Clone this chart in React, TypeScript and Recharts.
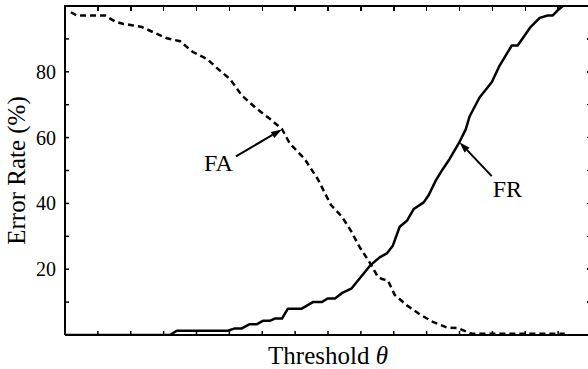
import { Line, LineChart, ReferenceLine, XAxis, YAxis } from "recharts";

// false acceptance curve (dashed)
const faThreshold = [0.18, 0.36, 1.22, 1.52, 1.76, 2.07, 2.34, 2.8, 3.1, 3.5, 3.89, 4.32, 4.65, 5.02, 5.38, 5.84, 6.23, 6.6, 6.84, 7.29, 7.69, 8.09, 8.42, 8.69, 8.97, 9.24, 9.51, 9.64, 9.82, 10.03, 10.4, 10.79, 11.19, 11.61, 11.95, 12.37, 15.2];
const faRate = [98.1, 97.1, 97.1, 95.3, 94.6, 94.1, 93.6, 91.5, 90.2, 89.3, 86.0, 83.9, 80.9, 77.8, 72.8, 68.7, 65.7, 62.6, 58.2, 53.5, 47.4, 39.5, 36.0, 31.8, 26.6, 22.5, 17.8, 17.0, 16.6, 12.2, 9.0, 6.3, 4.0, 2.3, 2.1, 0.4, 0.4];

// false rejection curve (solid)
const frThreshold = [0, 3.19, 3.4, 4.95, 5.17, 5.38, 5.62, 5.84, 6.02, 6.23, 6.38, 6.6, 6.78, 7.2, 7.54, 7.81, 7.99, 8.21, 8.45, 8.72, 9.03, 9.27, 9.57, 9.79, 9.97, 10.18, 10.4, 10.61, 10.91, 11.06, 11.28, 11.49, 11.7, 11.98, 12.19, 12.31, 12.61, 12.98, 13.22, 13.59, 13.77, 14.16, 14.44, 14.68, 14.83, 14.98, 15.14];
const frRate = [0, 0, 1.3, 1.3, 2.0, 2.0, 3.3, 3.3, 4.3, 4.3, 5.0, 5.0, 8.0, 8.0, 10.0, 10.0, 11.1, 11.1, 12.9, 14.2, 18.0, 21.0, 23.6, 24.8, 27.1, 32.9, 34.7, 38.3, 40.3, 42.5, 47.0, 50.4, 53.5, 58.3, 62.5, 66.5, 72.2, 76.8, 81.9, 88.0, 88.0, 93.6, 96.4, 97.1, 97.1, 98.6, 100];

const xMax = 16;
const yMax = 100;
const xTicks = [1, 2, 3, 4, 5, 6, 7, 8, 9, 10, 11, 12, 13, 14, 15];
const yTicks = [10, 20, 30, 40, 50, 60, 70, 80, 90];
const yLabeled = [20, 40, 60, 80];

const faData = faThreshold.map((t, i) => ({ t, v: faRate[i] }));
const frData = frThreshold.map((t, i) => ({ t, v: frRate[i] }));

const FONT = '"Liberation Serif", "Times New Roman", serif';

// chart box
const W = 600;
const H = 369;
const M = { top: 6, right: 9, bottom: 0, left: 0 };
const Y_AXIS_W = 65;
const X_AXIS_H = 34;
const PLOT_X = M.left + Y_AXIS_W;
const PLOT_Y = M.top;
const PLOT_W = W - M.left - M.right - Y_AXIS_W;
const PLOT_H = H - M.top - M.bottom - X_AXIS_H;

const BottomTick = ({ x, y }: any) => <line x1={x} y1={y} x2={x} y2={y - 4} stroke="#000" strokeWidth={1.5} />;

const LeftTick = ({ x, y, payload }: any) => (
    <g>
        <line x1={x} y1={y} x2={x + 4} y2={y} stroke="#000" strokeWidth={1.5} />
        {yLabeled.includes(payload.value) && (
            <text x={x - 9} y={y} dy="0.35em" textAnchor="end" fontSize={20} fontFamily={FONT} fill="#000">
                {payload.value}
            </text>
        )}
    </g>
);

const arrowShape = (label: string, dx: number, dy: number, anchor: string) => (p: any) => {
    const { x1, y1, x2, y2 } = p;
    const ang = Math.atan2(y2 - y1, x2 - x1);
    const len = 11;
    const w = 3.5;
    const bx = x2 - len * Math.cos(ang);
    const by = y2 - len * Math.sin(ang);
    const pts = [
        [x2, y2],
        [bx + w * Math.sin(ang), by - w * Math.cos(ang)],
        [bx - w * Math.sin(ang), by + w * Math.cos(ang)],
    ];
    return (
        <g>
            <line x1={x1} y1={y1} x2={bx} y2={by} stroke="#000" strokeWidth={2} />
            <polygon points={pts.map((q) => q.join(",")).join(" ")} fill="#000" />
            <text x={x1 + dx} y={y1 + dy} textAnchor={anchor} fontSize={24} fontFamily={FONT} fill="#000">
                {label}
            </text>
        </g>
    );
};

// top edge of the box frame as plain html, with its inward ticks
const TopEdge = () => (
    <div
        style={{
            position: "absolute",
            left: PLOT_X - 1,
            top: PLOT_Y - 1,
            width: PLOT_W + 2,
            height: 0,
            borderTop: "2px solid #000",
            pointerEvents: "none",
        }}
    >
        {xTicks.map((t) => (
            <div
                key={t}
                style={{
                    position: "absolute",
                    left: 1 + (t / xMax) * PLOT_W - 0.75,
                    top: 0,
                    width: 1.5,
                    height: 4,
                    background: "#000",
                }}
            />
        ))}
    </div>
);

// right edge, only its tick tips fall inside the window
const RightEdge = () => (
    <div
        style={{
            position: "absolute",
            left: PLOT_X + PLOT_W - 1,
            top: PLOT_Y - 1,
            width: 0,
            height: PLOT_H + 2,
            borderLeft: "2px solid #000",
            pointerEvents: "none",
        }}
    >
        {yTicks.map((v) => (
            <div
                key={v}
                style={{
                    position: "absolute",
                    left: -5,
                    top: 1 + PLOT_H - (v / yMax) * PLOT_H - 0.75,
                    width: 4,
                    height: 1.5,
                    background: "#000",
                }}
            />
        ))}
    </div>
);

export default function App() {
    return (
        <div style={{ position: "absolute", left: 0, top: 0, width: 588, height: 369, overflow: "hidden", background: "#fff" }}>
            <LineChart width={W} height={H} margin={M}>
                <XAxis
                    dataKey="t"
                    type="number"
                    domain={[0, xMax]}
                    ticks={xTicks}
                    interval={0}
                    height={X_AXIS_H}
                    tickSize={0}
                    tickMargin={0}
                    tickLine={false}
                    axisLine={{ stroke: "#000", strokeWidth: 2 }}
                    tick={<BottomTick />}
                    allowDataOverflow
                    label={{
                        content: ({ viewBox }: any) => (
                            <text x={viewBox.x + viewBox.width / 2} y={viewBox.y + 29} textAnchor="middle" fontSize={25} fontFamily={FONT} fill="#000">
                                Threshold <tspan fontStyle="italic">θ</tspan>
                            </text>
                        ),
                    }}
                />
                <YAxis
                    type="number"
                    domain={[0, yMax]}
                    ticks={yTicks}
                    interval={0}
                    width={Y_AXIS_W}
                    tickSize={0}
                    tickMargin={0}
                    tickLine={false}
                    axisLine={{ stroke: "#000", strokeWidth: 2 }}
                    tick={<LeftTick />}
                    allowDataOverflow
                    label={{
                        content: ({ viewBox }: any) => {
                            const cx = viewBox.x + 25;
                            const cy = viewBox.y + viewBox.height / 2;
                            return (
                                <text x={cx} y={cy} transform={`rotate(-90 ${cx} ${cy})`} textAnchor="middle" fontSize={25} fontFamily={FONT} fill="#000">
                                    Error Rate (%)
                                </text>
                            );
                        },
                    }}
                />
                <Line
                    data={faData}
                    dataKey="v"
                    type="linear"
                    stroke="#000"
                    strokeWidth={2.5}
                    strokeDasharray="6 4"
                    dot={false}
                    isAnimationActive={false}
                />
                <Line
                    data={frData}
                    dataKey="v"
                    type="linear"
                    stroke="#000"
                    strokeWidth={2.5}
                    strokeLinejoin="round"
                    dot={false}
                    isAnimationActive={false}
                />
                <ReferenceLine
                    segment={[
                        { x: 5.2, y: 54.3 },
                        { x: 6.6, y: 62.5 },
                    ]}
                    shape={arrowShape("FA", -3, 15, "end")}
                />
                <ReferenceLine
                    segment={[
                        { x: 12.98, y: 48.3 },
                        { x: 12.0, y: 58.6 },
                    ]}
                    shape={arrowShape("FR", 1, 21, "start")}
                />
            </LineChart>
            <TopEdge />
            <RightEdge />
        </div>
    );
}
